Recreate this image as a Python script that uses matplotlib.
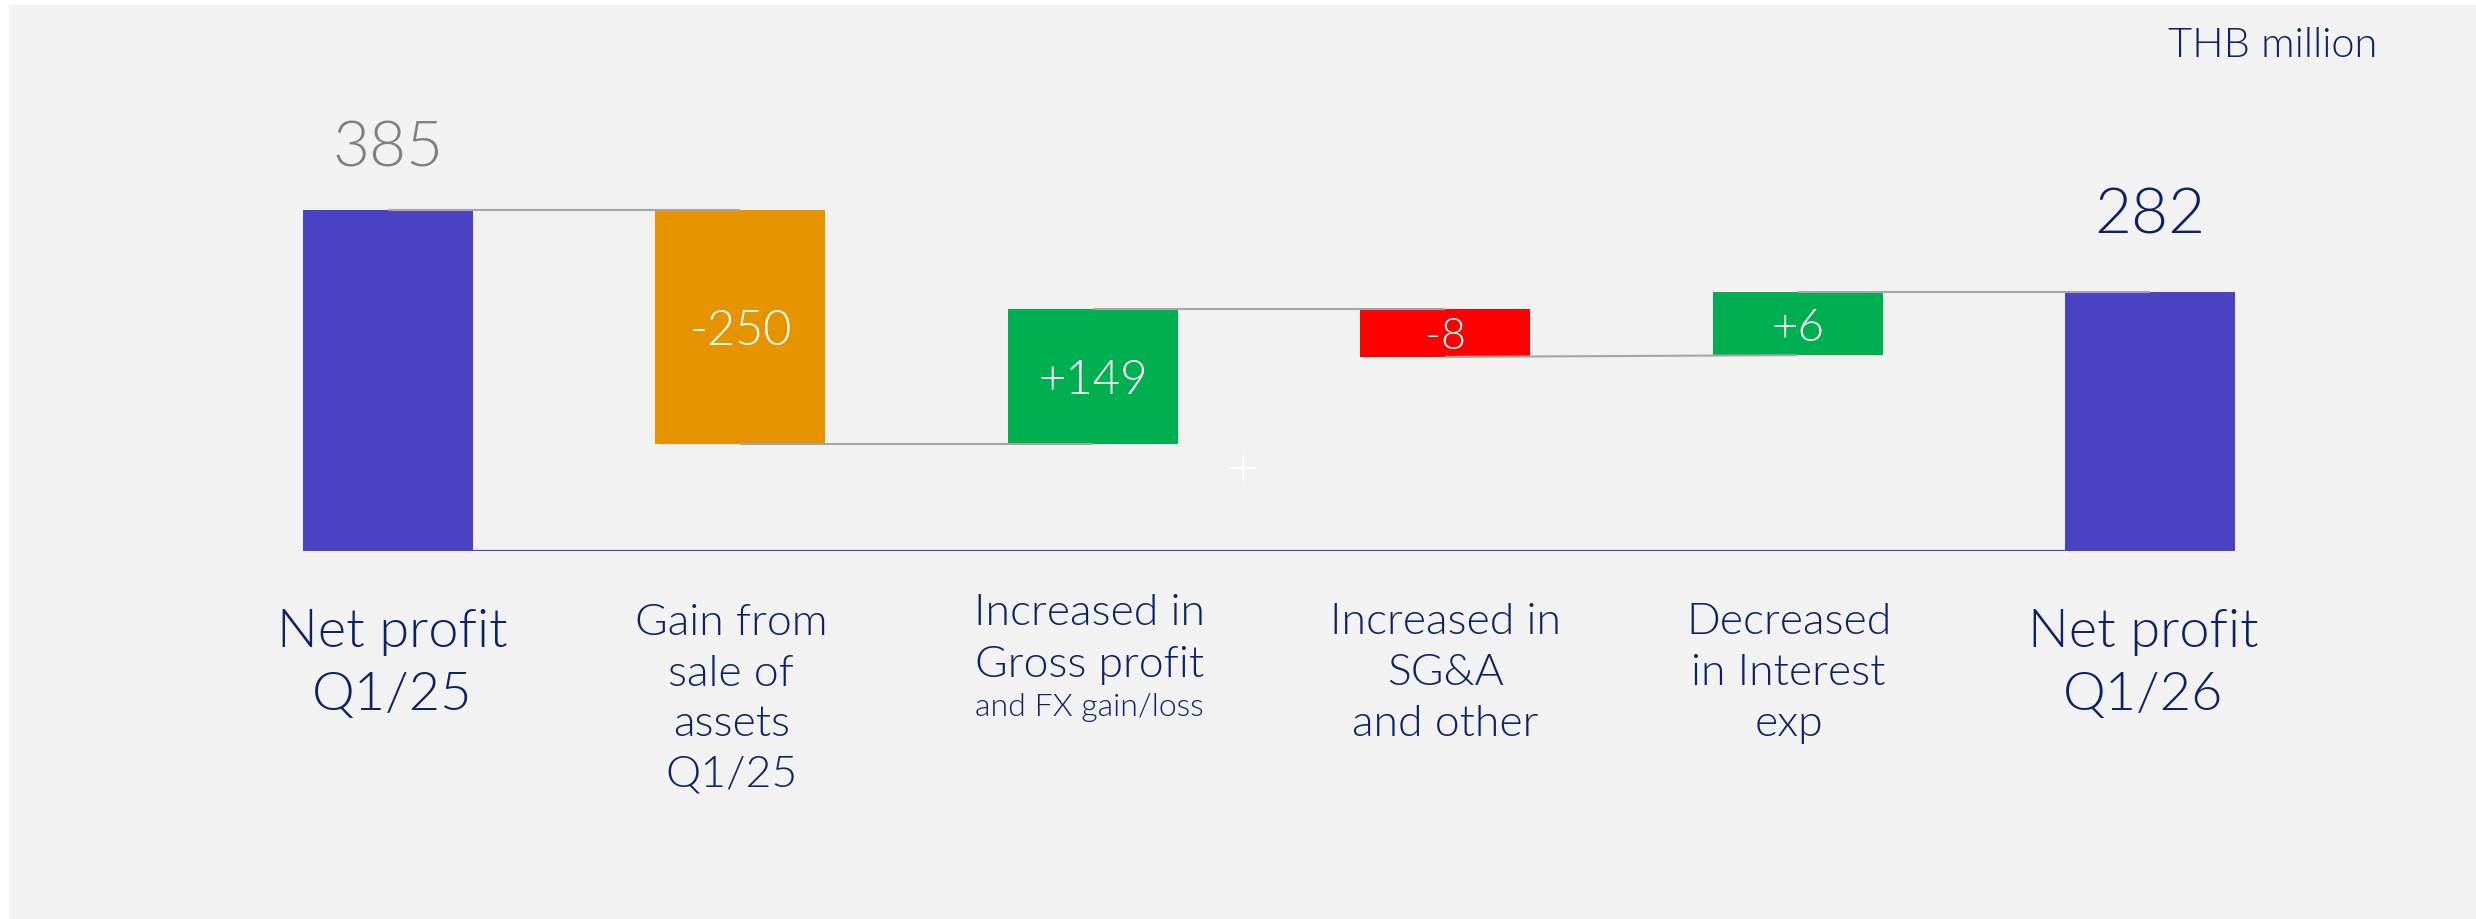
import matplotlib
matplotlib.use("Agg")
import matplotlib.pyplot as plt
from matplotlib.patches import Rectangle
import matplotlib.transforms as mtransforms

plt.rcParams['font.family'] = ['Lato', 'DejaVu Sans']

# ---------------- data ----------------
categories = [
    ["Net profit", "Q1/25"],
    ["Gain from", "sale of", "assets", "Q1/25"],
    ["Increased in", "Gross profit", "and FX gain/loss"],
    ["Increased in", "SG&A", "and other"],
    ["Decreased", "in Interest", "exp"],
    ["Net profit", "Q1/26"],
]
value_labels = ["385", "-250", "+149", "-8", "+6", "282"]
# bar extents as drawn in the picture (THB million scale)
bar_start = [0, 385, 121, 273, 221, 0]
bar_end = [385, 121, 273, 219, 292, 292]
bar_kind = ["total", "neg_special", "pos", "neg", "pos", "total"]
unit_label = "THB million"

# ---------------- style ----------------
W, H = 2476, 920
BG = "#F2F2F2"
NAVY = "#0B2265"
colors = {"total": "#4B42C3", "neg_special": "#E59400", "pos": "#00B050", "neg": "#FF0000"}
FW = 300

fig = plt.figure(figsize=(W / 100, H / 100), dpi=100)
fig.patch.set_facecolor("white")
fig.add_artist(Rectangle((9 / W, 0), 1 - 9 / W, 1 - 6 / H, transform=fig.transFigure,
                         facecolor=BG, edgecolor="none", zorder=0))

ax = fig.add_axes([211.8 / W, 368.1 / H, 2114.4 / W, 442.9 / H])
ax.set_xlim(-0.5, 5.5)
ax.set_ylim(0, 500)
ax.axis("off")
ax.patch.set_alpha(0)

n = len(value_labels)
xs = list(range(n))
width = 0.482

# baseline
ax.plot([xs[0], xs[-1]], [0, 0], color="#4B42C3", lw=1.6, zorder=1, solid_capstyle="butt")

for i in xs:
    lo = min(bar_start[i], bar_end[i])
    hi = max(bar_start[i], bar_end[i])
    ax.bar(i, hi - lo, bottom=lo, width=width, color=colors[bar_kind[i]], zorder=2)

# connectors
for i in range(n - 1):
    nxt = bar_end[i + 1] if bar_kind[i + 1] == "total" else bar_start[i + 1]
    ax.plot([xs[i], xs[i + 1]], [bar_end[i], nxt], color="#A6A6A6",
            lw=1.5, zorder=3, solid_capstyle="butt")

# value labels
inside_sizes = {1: 35, 2: 34, 3: 31, 4: 33}
for i in xs:
    if bar_kind[i] == "total":
        col = "#808080" if i == 0 else NAVY
        off = 44.5 if i == 0 else 60
        tr = mtransforms.offset_copy(ax.transData, fig=fig, x=0, y=off * 0.72, units="points")
        ax.text(i, bar_end[i], value_labels[i], transform=tr, ha="center", va="baseline",
                fontsize=46, color=col, fontweight=FW)
    else:
        fs = inside_sizes[i]
        mid = (bar_start[i] + bar_end[i]) / 2
        tr = mtransforms.offset_copy(ax.transData, fig=fig, x=0, y=-0.36 * fs, units="points")
        ax.text(i, mid, value_labels[i], transform=tr, ha="center", va="baseline",
                fontsize=fs, color="white", fontweight=FW)

# category labels (per line, baselines in pixels from top)
line_baselines = [
    [647, 710],
    [635, 686, 736, 787],
    [625, 677, 716],
    [634, 685, 736],
    [634, 685, 736],
    [647, 710],
]
line_sizes = [
    [39, 39],
    [32, 32, 32, 32],
    [32, 32, 23],
    [32, 32, 32],
    [32, 32, 32],
    [39, 39],
]
label_dx = [4, -9, -3, 0, -9, -7]
blend = mtransforms.blended_transform_factory(ax.transData, fig.transFigure)
for i, lines in enumerate(categories):
    for j, line in enumerate(lines):
        tr = mtransforms.offset_copy(blend, fig=fig, x=label_dx[i] * 0.72, y=0, units="points")
        ax.text(i, 1 - line_baselines[i][j] / H, line, transform=tr, ha="center",
                va="baseline", fontsize=line_sizes[i][j], color=NAVY, fontweight=FW,
                clip_on=False)

fig.text(2377 / W, 1 - 57 / H, unit_label, ha="right", va="baseline", fontsize=30,
         color=NAVY, fontweight=FW)
fig.text(1243 / W, 1 - 468 / H, "+", ha="center", va="center_baseline", fontsize=40,
         color="white", fontweight=FW)

fig.savefig("out.png", dpi=100, facecolor=fig.get_facecolor())
